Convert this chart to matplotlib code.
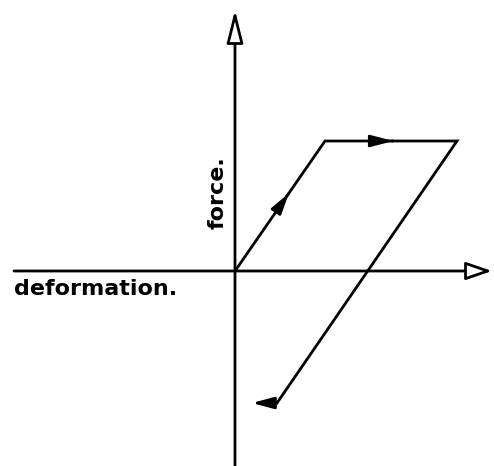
import matplotlib.pyplot as plt

# loading path of the force/deformation loop
deformation = [0.0, 9.0, 22.2, 4.2, 1.7]
force = [0.0, 13.0, 13.0, -13.2, -13.2]

x_axis = [-22.1, 25.7]
y_axis = [-19.5, 26.1]


def mid_arrow(ax, i, frac, length, width):
    # small filled arrowhead sitting on segment i of the path
    x0, y0 = deformation[i], force[i]
    x1, y1 = deformation[i + 1], force[i + 1]
    xa = x0 + (x1 - x0) * frac
    ya = y0 + (y1 - y0) * frac
    d = ((x1 - x0) ** 2 + (y1 - y0) ** 2) ** 0.5
    xb = xa - (x1 - x0) / d * 0.1
    yb = ya - (y1 - y0) / d * 0.1
    ax.annotate('', xy=(xa, ya), xytext=(xb, yb),
                arrowprops=dict(arrowstyle='-|>,head_length=%s,head_width=%s' % (length, width),
                                fc='black', ec='black', lw=1.8, shrinkA=0, shrinkB=0))


fig = plt.figure(figsize=(4.94, 4.66), dpi=100)
ax = fig.add_axes([0, 0, 1, 1])
ax.set_xlim(-23.5, 25.9)
ax.set_ylim(-19.5, 27.1)
ax.axis('off')

# axes with hollow arrowheads
ax.annotate('', xy=(x_axis[1], 0), xytext=(x_axis[0], 0),
            arrowprops=dict(arrowstyle='-|>,head_length=1.6,head_width=0.55',
                            fc='white', ec='black', lw=2.0, shrinkA=0, shrinkB=0))
ax.annotate('', xy=(0, y_axis[1]), xytext=(0, y_axis[0]),
            arrowprops=dict(arrowstyle='-|>,head_length=2.0,head_width=0.5',
                            fc='white', ec='black', lw=2.0, shrinkA=0, shrinkB=0))

# the loop
ax.plot(deformation[:-1], force[:-1], color='black', lw=2.0, solid_joinstyle='miter')
ax.annotate('', xy=(deformation[-1], force[-1]), xytext=(deformation[-2], force[-2]),
            arrowprops=dict(arrowstyle='-|>,head_length=1.3,head_width=0.35',
                            fc='black', ec='black', lw=2.0, shrinkA=0, shrinkB=0))

mid_arrow(ax, 0, 0.6, 1.3, 0.35)
mid_arrow(ax, 1, 0.52, 1.4, 0.36)

ax.text(-22.1, -1.8, 'deformation.', fontsize=16, fontweight='bold', ha='left', va='center')
ax.text(-1.7, 7.8, 'force.', fontsize=16, fontweight='bold', rotation=90, ha='center', va='center')

fig.savefig('out.png', dpi=100)
